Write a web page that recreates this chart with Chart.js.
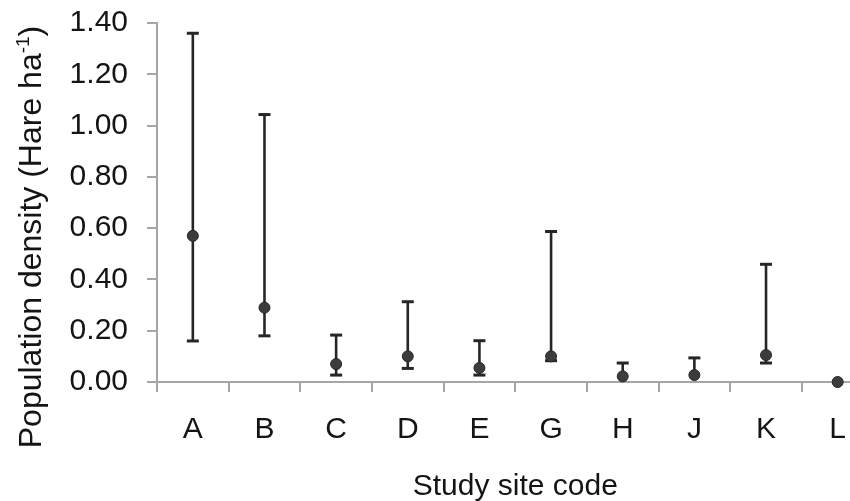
<!DOCTYPE html>
<html>
<head>
<meta charset="utf-8">
<script src="https://cdn.jsdelivr.net/npm/chart.js@4.4.1/dist/chart.umd.min.js"></script>
<style>
  html, body { margin: 0; padding: 0; background: #fff; overflow: hidden; }
  #wrap { position: absolute; left: 0; top: 0; width: 880px; height: 501px; }
</style>
</head>
<body>
<div id="wrap"><canvas id="c" width="880" height="501"></canvas></div>
<script>
// Hare population density per study site: mean with lower / upper limits
const sites = ['A', 'B', 'C', 'D', 'E', 'G', 'H', 'J', 'K', 'L'];
const meanDensity  = [0.57, 0.29, 0.07, 0.10, 0.055, 0.10, 0.022, 0.027, 0.105, 0.00];
const lowerDensity = [0.16, 0.18, 0.027, 0.053, 0.027, 0.083, 0.022, 0.027, 0.074, 0.00];
const upperDensity = [1.36, 1.043, 0.183, 0.313, 0.161, 0.587, 0.074, 0.094, 0.459, 0.00];
const yTicks = { min: 0, max: 1.4, step: 0.2 };

const FONT = 'Liberation Sans, Arial, Helvetica, sans-serif';
const AXIS_GREY = '#a6a6a6';
const TEXT = '#141414';
const BAR = '#262626';

// Error bars with caps, drawn underneath the points
const errorBars = {
  id: 'errorBars',
  beforeDatasetsDraw(chart) {
    const { ctx, scales: { x, y } } = chart;
    const capHalf = 6;
    ctx.save();
    ctx.strokeStyle = BAR;
    sites.forEach((s, i) => {
      const px = x.getPixelForValue(i);
      const pm = y.getPixelForValue(meanDensity[i]);
      const pl = y.getPixelForValue(lowerDensity[i]);
      const pu = y.getPixelForValue(upperDensity[i]);
      if (pl === pu) return;
      ctx.lineWidth = 2.6;
      ctx.beginPath();
      ctx.moveTo(px, pu);
      ctx.lineTo(px, pl);
      ctx.stroke();
      ctx.lineWidth = 3;
      if (pu < pm) {
        ctx.beginPath();
        ctx.moveTo(px - capHalf, pu);
        ctx.lineTo(px + capHalf, pu);
        ctx.stroke();
      }
      if (pl > pm) {
        ctx.beginPath();
        ctx.moveTo(px - capHalf, pl);
        ctx.lineTo(px + capHalf, pl);
        ctx.stroke();
      }
    });
    ctx.restore();
  }
};

// Axis titles (the y title carries a superscript unit)
const axisTitles = {
  id: 'axisTitles',
  afterDraw(chart) {
    const { ctx } = chart;
    ctx.save();
    ctx.fillStyle = TEXT;
    ctx.textBaseline = 'alphabetic';

    // x title
    ctx.font = `30px ${FONT}`;
    ctx.textAlign = 'center';
    const area = chart.chartArea;
    ctx.fillText('Study site code', (area.left + area.right) / 2, 495);

    // y title, rotated
    const main = 'Population density (Hare ha';
    const sup = '-1';
    const close = ')';
    ctx.textAlign = 'left';
    ctx.font = `32px ${FONT}`;
    const wMain = ctx.measureText(main).width;
    const wClose = ctx.measureText(close).width;
    ctx.font = `19px ${FONT}`;
    const wSup = ctx.measureText(sup).width;
    const total = wMain + wSup + wClose;
    ctx.translate(41, 237);
    ctx.rotate(-Math.PI / 2);
    let x0 = -total / 2;
    ctx.font = `32px ${FONT}`;
    ctx.fillText(main, x0, 0);
    x0 += wMain;
    ctx.font = `19px ${FONT}`;
    ctx.fillText(sup, x0, -12);
    x0 += wSup;
    ctx.font = `32px ${FONT}`;
    ctx.fillText(close, x0, 0);
    ctx.restore();
  }
};

// Fixed axis boxes so the plot area sits at a known place
function fixPadding(scale) {
  scale.paddingTop = 0;
  scale.paddingBottom = 0;
  scale.paddingLeft = 0;
  scale.paddingRight = 0;
}

new Chart(document.getElementById('c'), {
  type: 'line',
  data: {
    labels: sites,
    datasets: [{
      data: meanDensity,
      showLine: false,
      clip: false,
      pointRadius: 5.5,
      pointBackgroundColor: '#3c3c3c',
      pointBorderColor: '#262626',
      pointBorderWidth: 1
    }]
  },
  options: {
    responsive: false,
    animation: false,
    events: [],
    layout: { padding: { top: 23, right: 4, bottom: 0, left: 0 } },
    plugins: { legend: { display: false }, tooltip: { enabled: false } },
    scales: {
      x: {
        type: 'category',
        offset: true,
        grid: { offset: true, drawOnChartArea: false, drawTicks: true, tickLength: 10, color: AXIS_GREY, lineWidth: 2 },
        border: { display: true, color: AXIS_GREY, width: 2 },
        ticks: { color: TEXT, font: { family: FONT, size: 30 }, padding: 20, maxRotation: 0, autoSkip: false },
        afterFit(scale) { scale.height = 119; fixPadding(scale); }
      },
      y: {
        min: yTicks.min,
        max: yTicks.max,
        grid: { drawOnChartArea: false, drawTicks: true, tickLength: 10, color: AXIS_GREY, lineWidth: 2 },
        border: { display: true, color: AXIS_GREY, width: 2 },
        ticks: {
          stepSize: yTicks.step,
          color: TEXT,
          font: { family: FONT, size: 30 },
          padding: 19,
          callback: v => Number(v).toFixed(2)
        },
        afterFit(scale) { scale.width = 157; fixPadding(scale); }
      }
    }
  },
  plugins: [errorBars, axisTitles]
});
</script>
</body>
</html>
